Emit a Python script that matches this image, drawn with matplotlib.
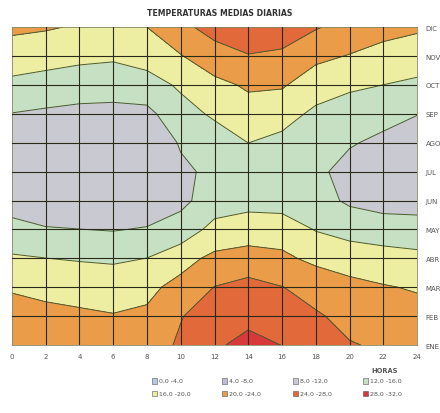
import numpy as np
import matplotlib
matplotlib.use("Agg")
import matplotlib.pyplot as plt
from matplotlib.patches import Rectangle

# mean temperature (deg C) per month (rows, ENE..DIC) and hour (cols, 0..24 every 2 h)
horas = [0, 2, 4, 6, 8, 10, 12, 14, 16, 18, 20, 22, 24]
meses = ["ENE", "FEB", "MAR", "ABR", "MAY", "JUN", "JUL", "AGO", "SEP", "OCT", "NOV", "DIC"]

t_h00 = [22.5, 21.2, 19.7, 16.5, 13.2, 10.3, 9.5, 10.0, 11.9, 15.0, 18.3, 20.7]
t_h02 = [22.0, 20.8, 19.2, 16.05, 12.3, 9.3, 8.8, 9.3, 11.5, 14.0, 18.0, 20.3]
t_h04 = [21.5, 20.3, 19.3, 15.6, 12.05, 9.0, 8.5, 9.0, 11.3, 13.3, 17.2, 19.7]
t_h06 = [21.2, 20.1, 19.1, 15.2, 11.8, 8.8, 8.2, 8.8, 11.2, 13.2, 16.7, 19.3]
t_h08 = [22.0, 20.5, 19.25, 16.05, 12.3, 9.3, 9.0, 9.5, 11.0, 14.3, 17.7, 20.0]
t_h10 = [24.6, 23.8, 21.0, 18.8, 13.2, 11.3, 11.4, 12.3, 14.5, 16.6, 19.8, 23.0]
t_h12 = [27.5, 26.0, 24.1, 20.8, 17.5, 13.45, 12.7, 14.0, 16.6, 19.0, 22.3, 25.5]
t_h14 = [29.0, 27.1, 25.0, 22.1, 17.3, 15.15, 14.5, 16.02, 18.5, 20.5, 23.8, 26.7]
t_h16 = [27.95, 26.3, 24.1, 20.8, 18.1, 14.3, 13.8, 15.0, 17.5, 20.4, 23.5, 25.5]
t_h18 = [26.5, 24.4, 22.6, 19.05, 15.8, 13.2, 12.5, 13.5, 15.2, 17.9, 20.9, 24.3]
t_h20 = [24.2, 23.0, 20.6, 19.0, 14.0, 11.5, 11.2, 12.2, 14.0, 16.7, 19.8, 22.7]
t_h22 = [23.6, 22.0, 20.2, 18.2, 13.1, 11.1, 10.5, 11.5, 12.75, 15.98, 18.8, 21.2]
t_h24 = [22.3, 21.0, 19.75, 17.0, 13.7, 10.3, 9.6, 10.2, 12.1, 15.2, 18.2, 20.5]

niveles = [0, 4, 8, 12, 16, 20, 24, 28, 32]
etiquetas = ["0,0 -4,0", "4,0 -8,0", "8,0 -12,0", "12,0 -16,0",
             "16,0 -20,0", "20,0 -24,0", "24,0 -28,0", "28,0 -32,0"]
colores = ["#b8c8e0", "#c0bcd8", "#c9c9d1", "#c6e0c4",
           "#eeeea2", "#eb9c48", "#e2693a", "#d8383a"]

temps = np.array([t_h00, t_h02, t_h04, t_h06, t_h08, t_h10, t_h12,
                  t_h14, t_h16, t_h18, t_h20, t_h22, t_h24]).T
X, Y = np.meshgrid(horas, np.arange(len(meses)))

fig = plt.figure(figsize=(4.4, 4.14), dpi=100)
ax = fig.add_axes([0.027, 0.164, 0.921, 0.768])

ax.contourf(X, Y, temps, levels=niveles, colors=colores)
ax.contour(X, Y, temps, levels=niveles[1:-1], colors="#4a5a30", linewidths=0.7)

# grid drawn on top of the filled bands
for h in horas[1:-1]:
    ax.axvline(h, color="#2a2a1a", lw=0.8, zorder=3)
for m in range(1, len(meses) - 1):
    ax.axhline(m, color="#2a2a1a", lw=0.8, zorder=3)

ax.set_xlim(0, 24)
ax.set_ylim(0, len(meses) - 1)
ax.set_xticks(horas)
ax.set_xticklabels([str(h) for h in horas], fontsize=5, color="#555555")
ax.set_yticks(range(len(meses)))
ax.set_yticklabels(meses, fontsize=5, color="#555555")
ax.yaxis.tick_right()
ax.tick_params(length=0, pad=6)
for s in ax.spines.values():
    s.set_color("#888866")
    s.set_linewidth(0.6)

fig.text(0.5, 0.968, "TEMPERATURAS MEDIAS DIARIAS", ha="center", va="center",
         fontsize=5.6, fontweight="bold", color="#333333")
fig.text(0.875, 0.103, "HORAS", ha="center", va="center", fontsize=4.8,
         fontweight="bold", color="#555555")

# legend: two rows of four
col_x = [0.345, 0.505, 0.665, 0.825]
row_y = [0.078, 0.047]
for i, (lab, c) in enumerate(zip(etiquetas, colores)):
    x0 = col_x[i % 4]
    y0 = row_y[i // 4]
    fig.patches.append(Rectangle((x0, y0 - 0.007), 0.012, 0.014, transform=fig.transFigure,
                                 facecolor=c, edgecolor="#555555", lw=0.4))
    fig.text(x0 + 0.016, y0, lab, ha="left", va="center", fontsize=4.5, color="#555555")

fig.savefig("out.png", dpi=100)
